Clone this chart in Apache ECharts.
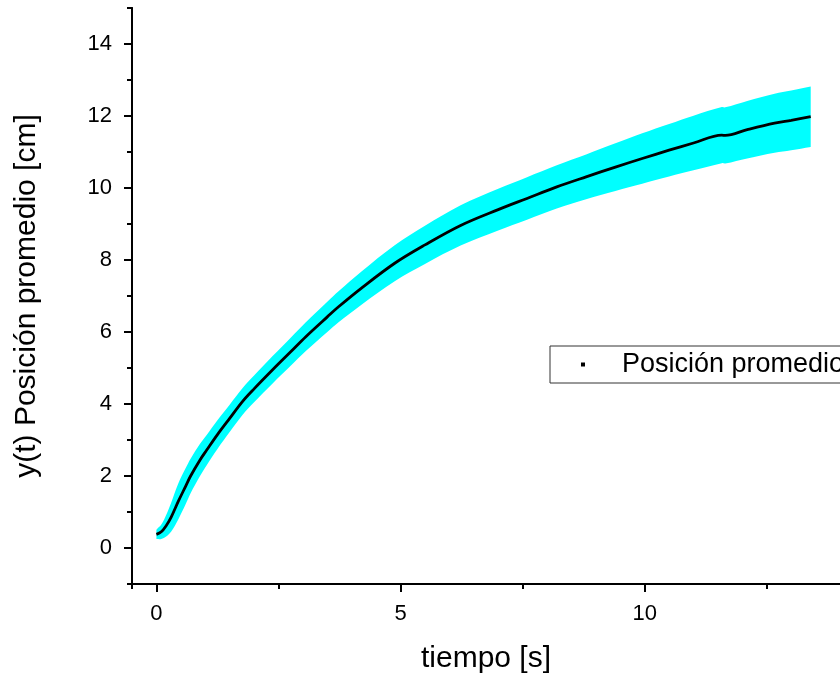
<!DOCTYPE html>
<html>
<head>
<meta charset="utf-8">
<script src="https://cdn.jsdelivr.net/npm/echarts@6/dist/echarts.min.js"></script>
<style>
html,body{margin:0;padding:0;background:#fff;}
#chart{width:840px;height:679px;}
</style>
</head>
<body>
<div id="chart"></div>
<script>
// tiempo [s]
var timeValues = [0, 0.1, 0.2, 0.3, 0.45, 0.6, 0.7, 0.89, 1.03, 1.25, 1.5, 1.77, 2.0, 2.38, 2.75, 3.06, 3.5, 3.73, 4.2, 4.88, 5.5, 6.23, 7.0, 7.59, 8.2, 8.8, 9.4, 9.95, 10.5, 11.0, 11.58, 11.65, 12.1, 12.66, 13.0, 13.4];
// posición promedio [cm]
var meanValues = [0.38, 0.45, 0.62, 0.85, 1.3, 1.72, 2.0, 2.44, 2.72, 3.15, 3.6, 4.08, 4.42, 4.95, 5.45, 5.87, 6.42, 6.7, 7.22, 7.91, 8.42, 8.96, 9.4, 9.71, 10.03, 10.31, 10.58, 10.82, 11.05, 11.25, 11.47, 11.46, 11.62, 11.8, 11.88, 11.98];
// desviación (semi-ancho de la banda) [cm]
var sigmaValues = [0.13, 0.2, 0.3, 0.4, 0.5, 0.5, 0.48, 0.45, 0.42, 0.4, 0.38, 0.37, 0.37, 0.38, 0.39, 0.4, 0.42, 0.43, 0.46, 0.5, 0.53, 0.56, 0.58, 0.59, 0.6, 0.62, 0.66, 0.7, 0.73, 0.76, 0.78, 0.78, 0.8, 0.82, 0.83, 0.84];
var xMajorTicks = [0, 5, 10];
var xMinorTicks = [-0.5, 2.5, 7.5, 12.5];
var yMajorTicks = [0, 2, 4, 6, 8, 10, 12, 14];
var seriesName = 'Posición promedio';
var xTitle = 'tiempo [s]';
var yTitle = 'y(t) Posición promedio [cm]';

var meanData = timeValues.map(function (t, i) { return [t, meanValues[i]]; });

var FONT = 'Liberation Sans, Arial, sans-serif';
var SMOOTH = 0.35;

// smooth open curve through pixel points (same idea as ECharts line smoothing)
function smoothPath(pts, s, startCmd) {
  var n = pts.length;
  var cps = pts.map(function (p, i) {
    var prev = pts[Math.max(i - 1, 0)], next = pts[Math.min(i + 1, n - 1)];
    var vx = next[0] - prev[0], vy = next[1] - prev[1];
    var d0 = Math.hypot(p[0] - prev[0], p[1] - prev[1]);
    var d1 = Math.hypot(next[0] - p[0], next[1] - p[1]);
    var r = (d0 + d1) > 0 ? d0 / (d0 + d1) : 0.5;
    return {
      before: [p[0] - vx * s * r, p[1] - vy * s * r],
      after: [p[0] + vx * s * (1 - r), p[1] + vy * s * (1 - r)]
    };
  });
  var d = startCmd + pts[0][0] + ' ' + pts[0][1];
  for (var i = 0; i < n - 1; i++) {
    var a = cps[i].after, b = cps[i + 1].before, q = pts[i + 1];
    d += ' C' + a[0] + ' ' + a[1] + ' ' + b[0] + ' ' + b[1] + ' ' + q[0] + ' ' + q[1];
  }
  return d;
}

var chart = echarts.init(document.getElementById('chart'), null, {renderer: 'canvas'});
var axisLine = {show: true, onZero: false, lineStyle: {color: '#000', width: 2}};
chart.setOption({
  animation: false,
  backgroundColor: '#fff',
  grid: {left: 132, top: 8, bottom: 95, right: -6, containLabel: false},
  legend: {
    data: [{name: seriesName, icon: 'rect'}],
    left: 550, top: 346,
    itemWidth: 4, itemHeight: 4,
    padding: [5, 300, 5, 31],
    borderColor: '#333', borderWidth: 1,
    textStyle: {fontFamily: FONT, fontSize: 27, color: '#000', padding: [0, 0, 0, 32]}
  },
  xAxis: [{
    type: 'value', min: -0.5, max: 14, position: 'bottom',
    name: xTitle, nameLocation: 'middle', nameGap: 60,
    nameTextStyle: {fontFamily: FONT, fontSize: 30, color: '#000'},
    axisLine: axisLine,
    axisTick: {show: true, customValues: xMajorTicks, length: 8, lineStyle: {color: '#000', width: 2}},
    axisLabel: {customValues: xMajorTicks, fontFamily: FONT, fontSize: 22, color: '#000', margin: 19},
    splitLine: {show: false}
  }, {
    type: 'value', min: -0.5, max: 14, position: 'bottom', gridIndex: 0,
    axisLine: axisLine,
    axisTick: {show: true, customValues: xMinorTicks, length: 5, lineStyle: {color: '#000', width: 2}},
    axisLabel: {show: false},
    splitLine: {show: false}
  }],
  yAxis: [{
    type: 'value', min: -1, max: 15, interval: 1, position: 'left',
    name: yTitle, nameLocation: 'middle', nameGap: 90,
    nameTextStyle: {fontFamily: FONT, fontSize: 30, color: '#000'},
    axisLine: axisLine,
    axisTick: {show: true, length: 5, lineStyle: {color: '#000', width: 2}},
    axisLabel: {show: false},
    splitLine: {show: false}
  }, {
    type: 'value', min: -1, max: 15, position: 'left',
    axisLine: axisLine,
    axisTick: {show: true, customValues: yMajorTicks, length: 8, lineStyle: {color: '#000', width: 2}},
    axisLabel: {customValues: yMajorTicks, fontFamily: FONT, fontSize: 22, color: '#000', margin: 20},
    splitLine: {show: false}
  }],
  series: [{
    name: 'banda', type: 'custom', silent: true, z: 1,
    data: [0],
    renderItem: function (params, api) {
      var up = [], lo = [];
      for (var i = 0; i < timeValues.length; i++) {
        up.push(api.coord([timeValues[i], meanValues[i] + sigmaValues[i]]));
        lo.push(api.coord([timeValues[i], meanValues[i] - sigmaValues[i]]));
      }
      lo.reverse();
      var d = smoothPath(up, SMOOTH, 'M') + ' ' + smoothPath(lo, SMOOTH, 'L') + ' Z';
      return {type: 'path', shape: {pathData: d}, style: {fill: '#00FFFF', stroke: null}};
    }
  }, {
    name: seriesName, type: 'line', data: meanData,
    showSymbol: false, symbol: 'none', smooth: SMOOTH,
    itemStyle: {color: '#000'},
    lineStyle: {color: '#000', width: 2.8}, z: 3
  }]
});
</script>
</body>
</html>
